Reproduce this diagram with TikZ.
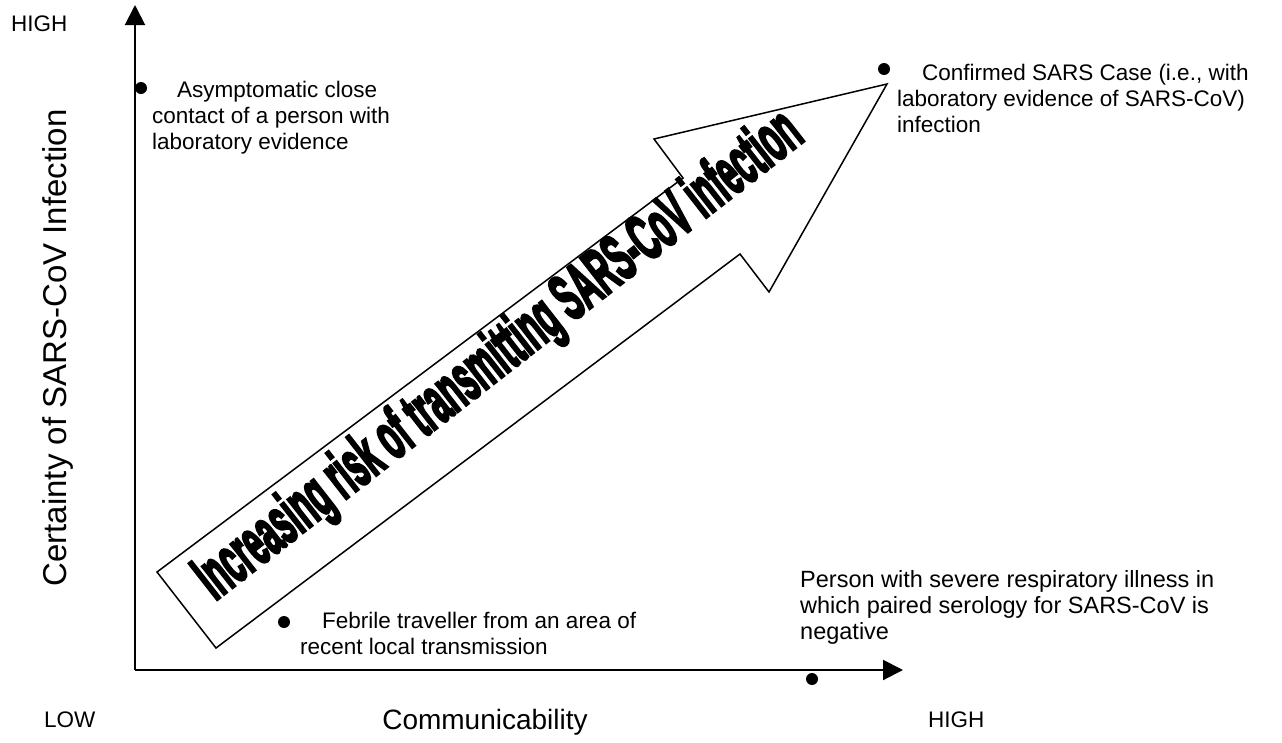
\documentclass[tikz,border=0pt]{standalone}
\usepackage{fontspec}
\setmainfont{Liberation Sans}
\newfontfamily\riskfont[FakeBold=5]{Liberation Sans Bold}
\usetikzlibrary{arrows.meta}

\newcommand{\bodyfont}{\fontsize{22.5}{26}\selectfont}
\newcommand{\titlefont}{\fontsize{28}{32}\selectfont}

\begin{document}
\begin{tikzpicture}[x=1pt,y=-1pt]
\useasboundingbox (0,0) rectangle (1282,742);

\coordinate (O) at (135,670);
\coordinate (ytop) at (135,5);
\coordinate (xend) at (903,670);

% axes
\begin{scope}[>={Triangle[length=20pt,width=20pt]}, line width=2pt]
    \draw [->] (O) -- (ytop);
    \draw [->] (O) -- (xend);
\end{scope}

% big arrow
\draw [line width=1.5pt, fill=white]
    (157,572) -- (683,178) -- (654,139) -- (887,84)
    -- (769,292) -- (740,254) -- (216,648) -- cycle;
\node [rotate=38, font=\riskfont\fontsize{66}{66}\selectfont, inner sep=0pt] (risk) at (500,357)
    {\scalebox{0.47}[1]{Increasing risk of transmitting SARS-CoV infection}};

% axis labels
\begin{scope}[every node/.style={font=\bodyfont, inner sep=0pt}]
    \node [anchor=base west] (yhigh) at (11,31) {HIGH};
    \node [anchor=base west] (xlow) at (44,727) {LOW};
    \node [anchor=base west] (xhigh) at (928,727) {HIGH};
\end{scope}
\node [font=\titlefont, anchor=base] (xlabel) at (485,729) {Communicability};
\node [font=\fontsize{33}{36}\selectfont, anchor=base, rotate=90] (ylabel) at (66,348) {Certainty of SARS-CoV Infection};

% cases
\begin{scope}[every node/.style={circle, fill=black, inner sep=0pt, minimum size=12pt}]
    \node (asym) at (141,88) {};
    \node (conf) at (884,69) {};
    \node (febr) at (284,622) {};
    \node (sev)  at (812,679) {};
\end{scope}

\begin{scope}[every node/.style={font=\bodyfont, align=left, anchor=north west, inner sep=0pt}]
    \node (asymtxt) at (152,81) {\hspace*{25pt}Asymptomatic close\\contact of a person with\\laboratory evidence};
    \node (conftxt) at (897,64) {\hspace*{25pt}Confirmed SARS Case (i.e., with\\laboratory evidence of SARS-CoV)\\infection};
    \node (febrtxt) at (300,612) {\hspace*{22pt}Febrile traveller from an area of\\recent local transmission};
    \node [font=\fontsize{23.5}{26}\selectfont] (sevtxt) at (800,570) {Person with severe respiratory illness in\\which paired serology for SARS-CoV is\\negative};
\end{scope}
\end{tikzpicture}
\end{document}
